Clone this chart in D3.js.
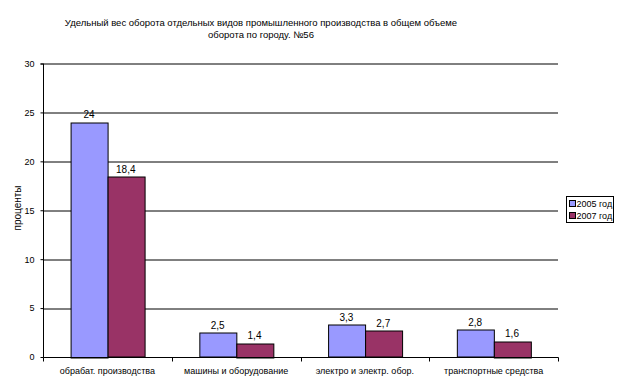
<!DOCTYPE html>
<html>
<head>
<meta charset="utf-8">
<script src="https://cdn.jsdelivr.net/npm/d3@7"></script>
<style>
  body { margin: 0; background: #fff; }
  svg text { font-family: "Liberation Sans", Arial, sans-serif; fill: #000; }
</style>
</head>
<body>
<svg id="chart" width="621" height="389"></svg>
<script>
const categories = ['обрабат. производства', 'машины и оборудование', 'электро и электр. обор.', 'транспортные средства'];
const series = ['2005 год', '2007 год'];
const values2005 = [24, 2.5, 3.3, 2.8];
const values2007 = [18.4, 1.4, 2.7, 1.6];
const labels2005 = ['24', '2,5', '3,3', '2,8'];
const labels2007 = ['18,4', '1,4', '2,7', '1,6'];
const yTicks = [0, 5, 10, 15, 20, 25, 30];
const colors = ['#9999FF', '#993366'];

const margin = {left: 43, right: 63, top: 63.5, bottom: 32};
const svg = d3.select('#chart');
const width = +svg.attr('width'), height = +svg.attr('height');
const innerWidth = width - margin.left - margin.right;
const innerHeight = height - margin.top - margin.bottom;

const g = svg.append('g').attr('transform', `translate(${margin.left},${margin.top})`);

const x0 = d3.scaleBand().domain(categories).range([0, innerWidth]).paddingInner(0).paddingOuter(0);
// gap width 150% like excel: 2 bars + 1.5 bar gap
const barW = x0.bandwidth() / 3.5;
const y = d3.scaleLinear().domain([0, 30]).range([innerHeight, 0]);

// gridlines
g.selectAll('.grid')
  .data(yTicks.filter(d => d > 0))
  .join('line')
  .attr('x1', 0).attr('x2', innerWidth)
  .attr('y1', d => Math.round(y(d)) + 0.5).attr('y2', d => Math.round(y(d)) + 0.5)
  .attr('stroke', '#000').attr('stroke-width', 1);

const data = categories.map((c, i) => ({cat: c, vals: [
  {s: 0, v: values2005[i], lab: labels2005[i]},
  {s: 1, v: values2007[i], lab: labels2007[i]}
]}));

const groups = g.selectAll('.grp').data(data).join('g')
  .attr('transform', d => `translate(${x0(d.cat) + barW * 0.75},0)`);

groups.selectAll('rect').data(d => d.vals).join('rect')
  .attr('x', d => Math.round(d.s * barW) + 0.5)
  .attr('y', d => Math.round(y(d.v)) + 0.5)
  .attr('width', Math.round(barW))
  .attr('height', d => Math.round(innerHeight - y(d.v)))
  .attr('fill', d => colors[d.s])
  .attr('stroke', '#000').attr('stroke-width', 1);

groups.selectAll('text').data(d => d.vals).join('text')
  .attr('x', d => d.s * barW + barW / 2)
  .attr('y', d => y(d.v) - 4)
  .attr('text-anchor', 'middle')
  .style('font-size', '10px')
  .text(d => d.lab);

// axes
const yAxis = d3.axisLeft(y).tickValues(yTicks).tickSize(3).tickPadding(6);
const ya = g.append('g').attr('transform', 'translate(0.5,0)').call(yAxis);
ya.select('.domain').attr('stroke', '#000').attr('d', `M-3,${y(30) + 0.5}H0V${innerHeight + 0.5}`);
ya.selectAll('.tick line').attr('stroke', '#000');
ya.selectAll('text').style('font-size', '9px').style('font-family', '"Liberation Sans", Arial, sans-serif');

const xAxis = d3.axisBottom(x0).tickSize(4).tickPadding(6).tickSizeOuter(4);
const xa = g.append('g').attr('transform', `translate(0,${innerHeight + 0.5})`).call(xAxis);
xa.selectAll('.tick line').remove();
xa.selectAll('.edge').data(d3.range(categories.length + 1)).join('line')
  .attr('x1', i => Math.round(i * x0.step()) + 0.5).attr('x2', i => Math.round(i * x0.step()) + 0.5)
  .attr('y1', 0).attr('y2', 4).attr('stroke', '#000');
xa.select('.domain').attr('stroke', '#000').attr('d', `M0.5,0H${innerWidth + 0.5}`);
xa.selectAll('text').style('font-size', '9px').style('font-family', '"Liberation Sans", Arial, sans-serif');

// y axis title
svg.append('text')
  .attr('transform', 'translate(21,208) rotate(-90)')
  .attr('text-anchor', 'middle')
  .style('font-size', '10px')
  .text('проценты');

// title
const title = svg.append('text').attr('text-anchor', 'middle').style('font-size', '9.5px');
title.append('tspan').attr('x', 261).attr('y', 26).text('Удельный вес оборота отдельных видов промышленного производства в общем объеме');
title.append('tspan').attr('x', 261).attr('y', 38).text('оборота по городу. №56');

// legend
const lg = svg.append('g').attr('transform', 'translate(566.5,196.5)');
lg.append('rect').attr('width', 47).attr('height', 26).attr('fill', '#fff').attr('stroke', '#000');
lg.selectAll('.li').data(series).join('rect')
  .attr('x', 3).attr('y', (d, i) => 4 + i * 12)
  .attr('width', 6).attr('height', 6)
  .attr('fill', (d, i) => colors[i]).attr('stroke', '#000');
lg.selectAll('.lt').data(series).join('text')
  .attr('x', 10).attr('y', (d, i) => 10.5 + i * 12)
  .style('font-size', '9px')
  .text(d => d);
</script>
</body>
</html>
